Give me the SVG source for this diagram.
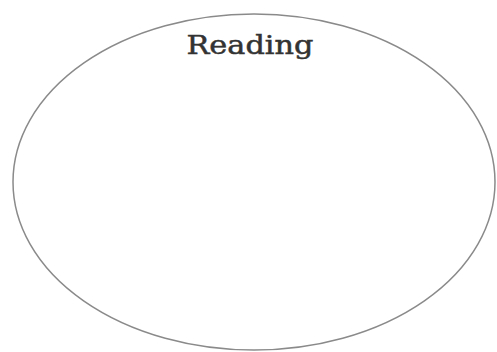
<svg xmlns="http://www.w3.org/2000/svg" width="497" height="352" viewBox="0 0 497 352">
<style>
.shape{fill:#fff;stroke:#8a8a8a;stroke-width:1.5}
.lbl{font-family:"DejaVu Serif","Liberation Serif",serif;font-size:26px;fill:#333;stroke:#333;stroke-width:0.5;text-anchor:middle}
</style>
<rect width="497" height="352" fill="#fff"/>
<g id="reading">
<ellipse class="shape" cx="254" cy="182" rx="241" ry="168"/>
<text class="lbl" x="250" y="54" textLength="127" lengthAdjust="spacingAndGlyphs">Reading</text>
</g>
<g id="connectors"/>
</svg>
